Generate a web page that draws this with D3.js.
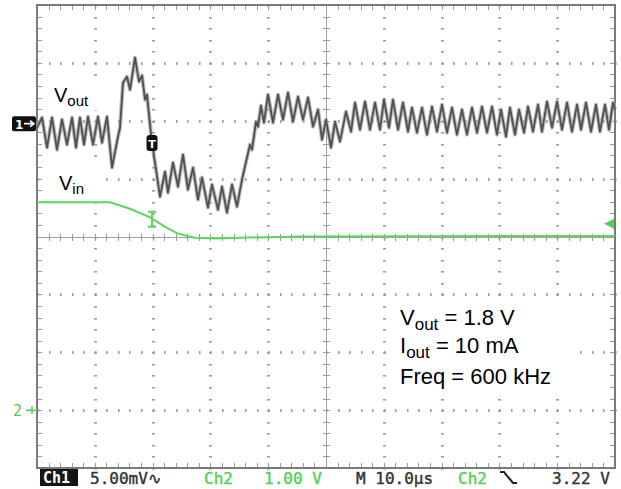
<!DOCTYPE html>
<html><head><meta charset="utf-8">
<script src="https://cdn.jsdelivr.net/npm/d3@7"></script>
<style>html,body{margin:0;padding:0;background:#fff;}svg{display:block;}</style>
</head><body>
<svg id="c" width="621" height="489"></svg>
<script>
// ---- data (time in µs, Ch1 in mV relative to its ground marker, Ch2 in V) ----
const ch1Time = [0,0.87,1.73,2.60,3.46,4.33,5.19,6.06,6.75,7.44,
 8.13,8.82,9.69,10.55,11.25,12.11,12.98,14.01,14.36,14.88,
 15.57,16.09,16.96,17.65,18.17,18.69,19.03,19.55,19.90,20.59,
 21.28,22.15,22.66,23.53,24.39,25.26,26.12,26.99,27.85,28.55,
 29.58,30.28,31.31,32.01,32.87,33.74,34.60,35.47,36.33,36.85,
 37.20,37.89,38.24,38.75,39.27,39.97,40.83,41.70,42.56,43.43,
 44.29,45.16,46.02,46.89,47.75,48.62,49.31,50.00,50.87,51.56,
 52.42,53.46,54.33,55.02,55.88,56.75,57.61,58.48,59.34,60.03,
 60.90,61.59,62.46,63.32,64.19,64.88,65.74,66.61,67.47,68.34,
 69.20,70.07,70.93,71.80,72.66,73.53,74.39,75.26,76.12,76.99,
 77.85,78.72,79.58,80.28,81.14,81.83,82.70,83.39,84.26,84.95,
 85.81,86.68,87.37,88.24,89.10,89.97,90.83,91.70,92.56,93.43,
 94.12,94.98,95.85,96.71,97.40,98.27,98.96,99.65,100];
const ch1mV = [-0.35,0.52,-2.07,0.52,-2.25,0.35,-1.81,0.52,-2.07,0.52,
 -1.81,0.60,-1.81,0.60,-1.64,0.60,-3.80,-1.12,-0.35,3.54,
 4.06,2.94,5.70,3.63,4.15,2.07,2.50,-0.09,-1.64,-3.97,
 -6.30,-4.15,-5.96,-3.37,-5.44,-2.68,-5.70,-3.80,-6.56,-4.66,
 -7.25,-5.27,-7.43,-5.44,-7.69,-5.27,-7.17,-4.84,-2.94,-1.81,
 -2.25,0.17,-0.26,1.55,0.09,2.50,0.09,2.50,0.35,2.68,
 0.17,2.33,0.35,2.25,-0.26,1.21,-1.38,0.35,-2.07,0.17,
 -1.55,1.04,-0.69,1.81,-0.52,1.90,-0.52,1.81,-0.52,2.07,
 -0.35,2.07,-0.52,1.81,-0.69,1.38,-0.78,1.38,-0.95,1.47,
 -0.69,1.64,-0.78,1.38,-0.95,1.21,-0.95,1.38,-0.78,1.47,
 -0.78,1.47,-0.95,1.21,-1.12,1.38,-0.95,1.21,-0.78,1.47,
 -0.69,1.64,-0.69,1.90,-0.35,1.90,-0.52,1.81,-0.69,1.64,
 -0.52,1.81,-0.69,1.64,-0.69,1.64,-0.52,1.81,1.21];
const ch2Time = [0,12.6,16.1,19.55,22.1,24.4,27.3,30.8,35.1,45.5,100];
const ch2V    = [3.59,3.59,3.48,3.33,3.17,3.05,2.98,2.965,2.98,3.0,3.01];

const ch1Scale = 5, ch1Offset = 1.95;   // mV/div, ground position (div)
const ch2Scale = 1, ch2Offset = -3;     // V/div
const triggerTime = 19.9, triggerLevel = 3.22;
const statusItems = [
  {text:"5.00mV\u223F", x:90, color:"#333"},
  {text:"Ch2", x:204, color:"#4fd34f"},
  {text:"1.00 V", x:264, color:"#4fd34f"},
  {text:"M 10.0\u00B5s", x:356, color:"#333"},
  {text:"Ch2", x:458, color:"#4fd34f"},
  {text:"3.22 V", x:552, color:"#333"}
];

const svg = d3.select("#c");
const L=37, R=615, T=5, B=468;
const x = d3.scaleLinear().domain([0,100]).range([L,R]);
const yDiv = d3.scaleLinear().domain([-4,4]).range([B,T]);
const y1 = v => yDiv(v/ch1Scale + ch1Offset);
const y2 = v => yDiv(v/ch2Scale + ch2Offset);
const px = v => Math.round(v)+0.5;

// ---- graticule ----
const g = svg.append("g");
const majorX = d3.range(0,101,10), minorX = d3.range(0,100.01,2);
const majorY = d3.range(-4,4.01,1), minorY = d3.range(-4,4.01,0.2);
const dotC = "#9d9d9d";
const dots = [];
majorX.filter(t=>t>0&&t<100&&t!==50).forEach(t=>minorY.forEach(d=>dots.push([x(t),yDiv(d),"h"])));
majorY.filter(d=>d>-4&&d<4&&d!==0).forEach(d0=>minorX.forEach(t=>dots.push([x(t),yDiv(d0),"v"])));
g.selectAll("rect.dot").data(dots).join("rect").attr("class","dot")
 .attr("x",d=>Math.round(d[0])-(d[2]==="h"?1:0)).attr("y",d=>Math.round(d[1])-(d[2]==="v"?1:0))
 .attr("width",d=>d[2]==="h"?3:1.6).attr("height",d=>d[2]==="v"?3:1.6).attr("fill",dotC);
// center lines with ticks
g.append("line").attr("x1",L).attr("x2",R).attr("y1",px(yDiv(0))).attr("y2",px(yDiv(0))).attr("stroke","#a0a0a0").attr("stroke-width",1);
g.append("line").attr("x1",px(x(50))).attr("x2",px(x(50))).attr("y1",T).attr("y2",B).attr("stroke","#a0a0a0").attr("stroke-width",1);
g.selectAll("line.ct").data(minorX).join("line").attr("class","ct").attr("x1",d=>px(x(d))).attr("x2",d=>px(x(d)))
 .attr("y1",Math.round(yDiv(0))-3).attr("y2",Math.round(yDiv(0))+4).attr("stroke","#999").attr("stroke-width",1);
g.selectAll("line.cy").data(minorY).join("line").attr("class","cy").attr("y1",d=>px(yDiv(d))).attr("y2",d=>px(yDiv(d)))
 .attr("x1",Math.round(x(50))-3).attr("x2",Math.round(x(50))+4).attr("stroke","#999").attr("stroke-width",1);
// edge ticks
g.selectAll("line.el").data(minorY).join("line").attr("class","el").attr("y1",d=>px(yDiv(d))).attr("y2",d=>px(yDiv(d)))
 .attr("x1",L).attr("x2",L+5).attr("stroke","#999");
g.selectAll("line.er").data(minorY).join("line").attr("class","er").attr("y1",d=>px(yDiv(d))).attr("y2",d=>px(yDiv(d)))
 .attr("x1",R-5).attr("x2",R).attr("stroke","#999");
g.selectAll("line.et").data(minorX).join("line").attr("class","et").attr("x1",d=>px(x(d))).attr("x2",d=>px(x(d)))
 .attr("y1",T).attr("y2",T+5).attr("stroke","#999");
g.selectAll("line.eb").data(minorX).join("line").attr("class","eb").attr("x1",d=>px(x(d))).attr("x2",d=>px(x(d)))
 .attr("y1",B-5).attr("y2",B).attr("stroke","#999");
g.append("rect").attr("x",L).attr("y",T).attr("width",R-L).attr("height",B-T)
 .attr("fill","none").attr("stroke","#7a7a7a").attr("stroke-width",2);

// white label backgrounds
[[47,78,53,32],[47,167,53,30],[392,300,182,97]].forEach(r=>{
  svg.append("rect").attr("x",r[0]).attr("y",r[1]).attr("width",r[2]).attr("height",r[3]).attr("fill","#fff");
});

// ---- traces ----
const line1 = d3.line().x(d=>x(d[0])).y(d=>y1(d[1]));
const pts1 = ch1Time.map((t,i)=>[t,ch1mV[i]]);
svg.append("path").attr("d",line1(pts1)).attr("fill","none").attr("stroke","#a5a5a5")
 .attr("stroke-width",4).attr("stroke-linejoin","round").attr("opacity",0.75);
svg.append("path").attr("d",line1(pts1)).attr("fill","none").attr("stroke","#505050")
 .attr("stroke-width",1.8).attr("stroke-linejoin","round");

const line2 = d3.line().x(d=>x(d[0])).y(d=>y2(d[1]));
svg.append("path").attr("d",line2(ch2Time.map((t,i)=>[t,ch2V[i]]))).attr("fill","none")
 .attr("stroke","#5ed65e").attr("stroke-width",2);

// ---- markers ----
const g1y = y1(0);
svg.append("rect").attr("x",12).attr("y",g1y-7.5).attr("width",24).attr("height",15).attr("rx",2).attr("fill","#111");
svg.append("text").attr("x",15).attr("y",g1y+5).attr("fill","#fff").attr("font-family","DejaVu Sans").attr("font-weight","bold").attr("font-size",12).text("1");
svg.append("path").attr("d",`M24,${g1y} H34 M30,${g1y-3} L34,${g1y} L30,${g1y+3}`).attr("stroke","#fff").attr("stroke-width",1.6).attr("fill","none");
const g2y = y2(0);
svg.append("text").attr("x",13).attr("y",g2y+6).attr("fill","#4fd34f").attr("font-family","DejaVu Sans Mono").attr("font-size",15).text("2");
svg.append("path").attr("d",`M26,${g2y} H37 M32,${g2y-4} V${g2y+4}`).attr("stroke","#4fd34f").attr("stroke-width",1.5).attr("fill","none");
const tx = x(triggerTime);
svg.append("rect").attr("x",tx-5.5).attr("y",135).attr("width",11).attr("height",16).attr("rx",3).attr("fill","#111");
svg.append("text").attr("x",tx).attr("y",148).attr("text-anchor","middle").attr("fill","#fff").attr("font-family","DejaVu Sans").attr("font-weight","bold").attr("font-size",11).text("T");
const ty = y2(triggerLevel);
svg.append("path").attr("d",`M${tx-4},${ty-12} H${tx+4} M${tx},${ty-12} V${ty+3} M${tx-4},${ty+3} H${tx+4}`)
 .attr("stroke","#5ed65e").attr("stroke-width",2).attr("fill","none");
svg.append("path").attr("d",`M${R-1},${ty-5} L${R-11},${ty} L${R-1},${ty+5} Z`).attr("fill","#4fd34f");

// ---- labels ----
function sublabel(xp, yp, main, sub, fs, sfs, dy){
  const t = svg.append("text").attr("x",xp).attr("y",yp).attr("font-family","Liberation Sans, Arial, sans-serif").attr("font-size",fs).attr("fill","#000");
  t.append("tspan").text(main);
  t.append("tspan").attr("font-size",sfs).attr("dy",dy).text(sub);
  return t;
}
sublabel(54,102,"V","out",20,15,4);
sublabel(59,190,"V","in",20,15,4);
const a1 = sublabel(400,325,"V","out",22,17,5); a1.append("tspan").attr("dy",-5).text(" = 1.8 V");
const a2 = sublabel(400,353,"I","out",22,17,5); a2.append("tspan").attr("dy",-5).text(" = 10 mA");
svg.append("text").attr("x",400).attr("y",384).attr("font-family","Liberation Sans, Arial, sans-serif").attr("font-size",22).text("Freq = 600 kHz");

// ---- status bar ----
svg.append("rect").attr("x",40).attr("y",469).attr("width",38).attr("height",17).attr("fill","#151515");
svg.append("text").attr("x",43).attr("y",483).attr("fill","#fff").attr("font-family","DejaVu Sans Mono").attr("font-weight","bold").attr("font-size",15).text("Ch1");
svg.selectAll("text.st").data(statusItems).join("text").attr("class","st").attr("x",d=>d.x).attr("y",484)
 .attr("fill",d=>d.color).attr("font-family","DejaVu Sans Mono").attr("font-size",16)
 .attr("stroke",d=>d.color).attr("stroke-width",0.4).text(d=>d.text);
svg.append("path").attr("d","M500,472 H504 L513,483 H517").attr("stroke","#222").attr("stroke-width",2).attr("fill","none");
</script>
</body></html>
